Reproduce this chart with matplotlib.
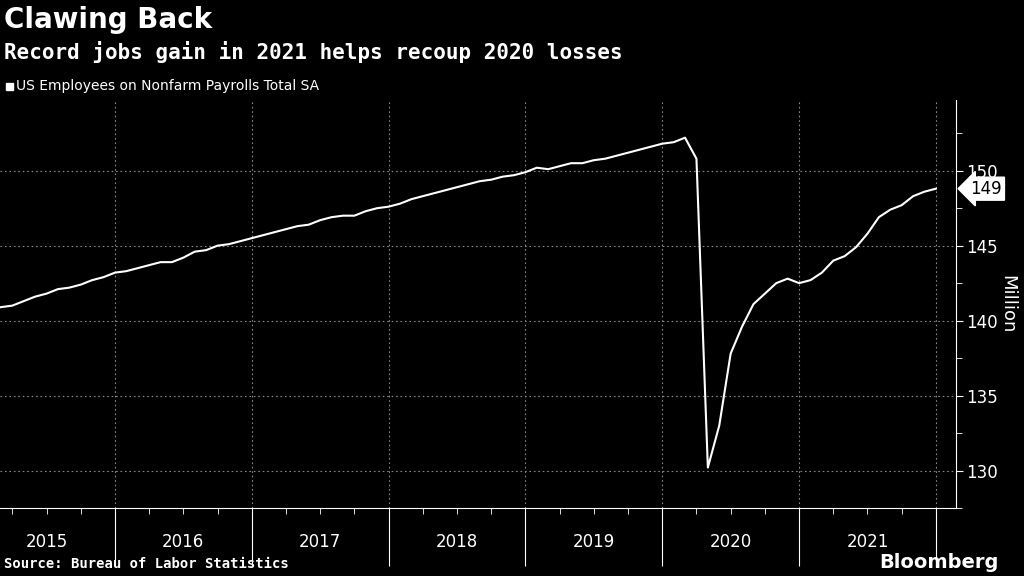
import matplotlib
matplotlib.use("Agg")
import matplotlib.pyplot as plt
import numpy as np

# Monthly values, million (Jan 2015 .. Dec 2021)
payrolls = [
    140.7, 140.9, 141.0, 141.3, 141.6, 141.8, 142.1, 142.2, 142.4, 142.7, 142.9, 143.2,
    143.3, 143.5, 143.7, 143.9, 143.9, 144.2, 144.6, 144.7, 145.0, 145.1, 145.3, 145.5,
    145.7, 145.9, 146.1, 146.3, 146.4, 146.7, 146.9, 147.0, 147.0, 147.3, 147.5, 147.6,
    147.8, 148.1, 148.3, 148.5, 148.7, 148.9, 149.1, 149.3, 149.4, 149.6, 149.7, 149.9,
    150.2, 150.1, 150.3, 150.5, 150.5, 150.7, 150.8, 151.0, 151.2, 151.4, 151.6, 151.8,
    151.9, 152.2, 150.8, 130.2, 133.0, 137.8, 139.6, 141.1, 141.8, 142.5, 142.8, 142.5,
    142.7, 143.2, 144.0, 144.3, 144.9, 145.8, 146.9, 147.4, 147.7, 148.3, 148.6, 148.8,
]
years = list(range(2015, 2022))
yticks = [130, 135, 140, 145, 150]

x = np.array([2015 + (i + 1) / 12 for i in range(len(payrolls))])

fig = plt.figure(figsize=(10.24, 5.76), dpi=100, facecolor="black")
ax = fig.add_axes([0.0, 0.118, 0.934, 0.708], facecolor="black")
ax.plot(x, payrolls, color="white", lw=1.5, zorder=3)

ax.set_xlim(2015.16, 2022.15)
ax.set_ylim(127.9, 154.7)

for s in ["top", "left"]:
    ax.spines[s].set_visible(False)
for s in ["bottom", "right"]:
    ax.spines[s].set_color("white")

ax.yaxis.tick_right()
ax.set_yticks(yticks)
ax.set_yticks(np.arange(127.5, 155, 2.5), minor=True)
ax.tick_params(axis="y", which="both", colors="white", labelsize=12, direction="out", pad=2)
ax.tick_params(axis="y", which="major", length=5)
ax.tick_params(axis="y", which="minor", length=4)
ax.set_ylabel("Million", color="white", fontsize=13, rotation=270, va="center")
ax.yaxis.set_label_position("right")
ax.yaxis.set_label_coords(1.063, 0.5)

ax.set_xticks(range(2016, 2023))
ax.set_xticks([y + q / 4 for y in range(2015, 2022) for q in (1, 2, 3)], minor=True)
ax.tick_params(axis="x", which="major", length=42, colors="white", labelbottom=False)
ax.tick_params(axis="x", which="minor", length=4, colors="white")
for yr in years:
    ax.text(yr + 0.5, -0.083, str(yr), transform=ax.get_xaxis_transform(),
            ha="center", va="center", color="white", fontsize=12)

for v in range(2016, 2023):
    ax.axvline(v, color="#888888", lw=0.8, ls=(0, (1.5, 2.5)), zorder=1)
for v in yticks:
    ax.axhline(v, color="#888888", lw=0.8, ls=(0, (1.5, 2.5)), zorder=1)

# last value marker
last = payrolls[-1]
ax.annotate(f"{last:.0f}", xy=(1.0, last), xycoords=("axes fraction", "data"),
            xytext=(10, 0), textcoords="offset points", ha="left", va="center",
            fontsize=12, color="black",
            bbox=dict(boxstyle="larrow,pad=0.15", fc="white", ec="white"))

fig.text(0.004, 0.965, "Clawing Back", color="white", fontsize=20, fontweight="bold",
         va="center")
fig.text(0.004, 0.91, "Record jobs gain in 2021 helps recoup 2020 losses", color="white",
         fontsize=15, fontweight="bold", va="center", family="DejaVu Sans Mono")
fig.patches.append(plt.Rectangle((0.006, 0.844), 0.007, 0.012, color="white",
                                 transform=fig.transFigure, figure=fig))
fig.text(0.016, 0.85, "US Employees on Nonfarm Payrolls Total SA", color="white",
         fontsize=10, va="center")
fig.text(0.004, 0.02, "Source: Bureau of Labor Statistics", color="white",
         fontsize=10, fontweight="bold", va="center", family="DejaVu Sans Mono")
fig.text(0.975, 0.024, "Bloomberg", color="white", fontsize=14, fontweight="bold",
         ha="right", va="center")

fig.savefig("out.png", dpi=100, facecolor="black")
